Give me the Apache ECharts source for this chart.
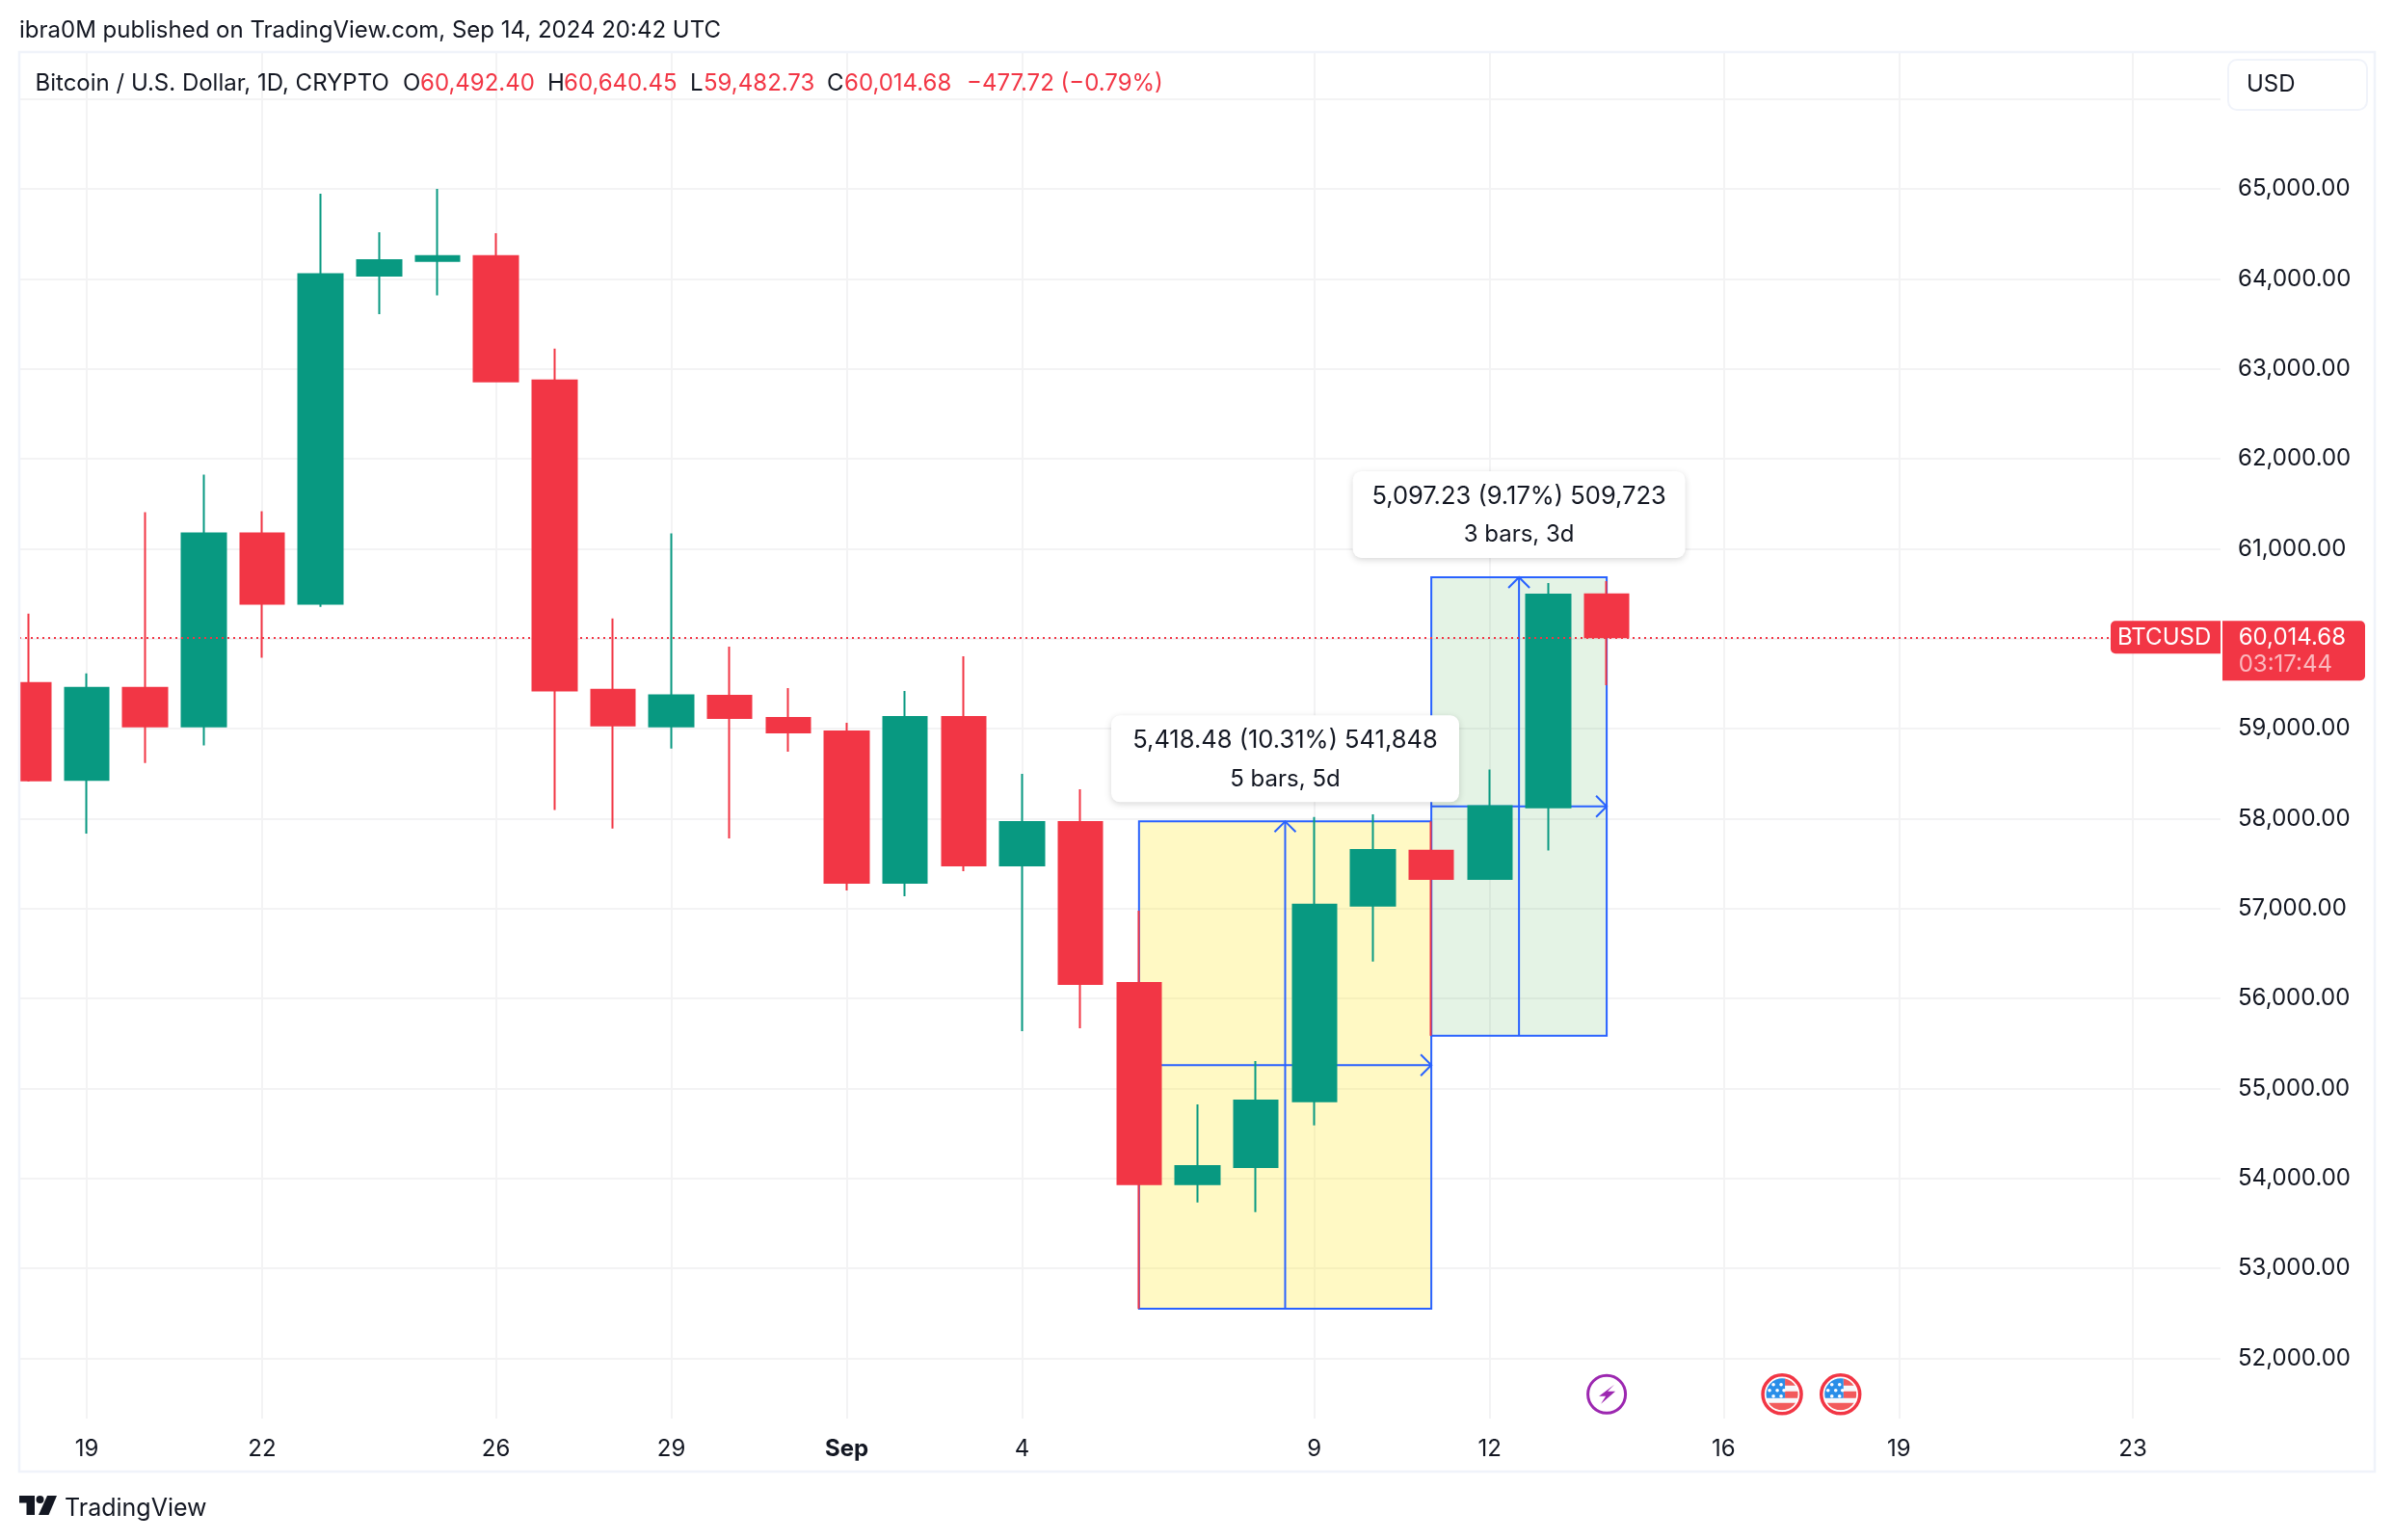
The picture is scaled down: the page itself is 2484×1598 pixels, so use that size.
<!DOCTYPE html>
<html><head><meta charset="utf-8">
<style>html,body{margin:0;padding:0;background:#fff}#c{width:2484px;height:1598px}</style>
<script src="https://cdn.jsdelivr.net/npm/echarts@6/dist/echarts.min.js"></script>
</head><body><div id="c"></div>
<script>
const dates = ['Aug 18','Aug 19','Aug 20','Aug 21','Aug 22','Aug 23','Aug 24','Aug 25','Aug 26','Aug 27','Aug 28','Aug 29','Aug 30','Aug 31','Sep 1','Sep 2','Sep 3','Sep 4','Sep 5','Sep 6','Sep 7','Sep 8','Sep 9','Sep 10','Sep 11','Sep 12','Sep 13','Sep 14'];
const opens  = [59507,58430,59453,59025,61169,60387,64036,64198,64252,62871,59433,59025,59366,59119,58969,57287,59130,57480,57962,56173,53935,54127,54857,57031,57643,57329,58126,60492.40];
const closes = [58425,59453,59025,61169,60387,64051,64208,64252,62861,59423,59034,59369,59119,58958,57287,59130,57480,57962,56162,53935,54138,54865,57042,57650,57329,58137,60490,60014.68];
const lows   = [58410,57834,58617,58813,59787,60353,63608,63815,62851,58095,57889,58779,57780,58744,57201,57137,57416,55637,55670,52550,53733,53625,54590,56411,55586,57320,57644,59482.73];
const highs  = [60279,59615,61405,61823,61415,64946,64518,65000,64508,63225,60225,61169,59912,59451,59066,59419,59805,58498,58326,56977,54823,55305,58018,58048,57969,58544,60619,60640.45];
const xTickIndex = [1,4,8,11,14,17,22,25,29,32,36];
const xTickLabels = ['19','22','26','29','Sep','4','9','12','16','19','23'];
const yTicks = [52000,53000,54000,55000,56000,57000,58000,59000,60000,61000,62000,63000,64000,65000,66000];
const yLabelTicks = [52000,53000,54000,55000,56000,57000,58000,59000,61000,62000,63000,64000,65000];
const rangeStart = [19,24];
const rangeEnd = [24,27];
const rangeLow = [52550.4,55586];
const rangeHigh = [57968.88,60683.23];
const rangeFill = ['rgba(255,235,59,0.3)','rgba(76,175,80,0.15)'];
const rangeLine1 = ['5,418.48 (10.31%) 541,848','5,097.23 (9.17%) 509,723'];
const rangeLine2 = ['5 bars, 5d','3 bars, 3d'];
const lastClose = 60014.68;
const countdown = '03:17:44';
const eventDays = [27,30,31];
const eventKinds = ['bolt','flag','flag'];
const eventLevel = 51600;
const INK='#131722', RED='#F23645', GREEN='#089981', BLUE='#2962FF', GRID='#F3F3F4', FRAME='#F0F3FA', FONT='Inter', FS=24;

const candleData = dates.map((d,i)=>[i,opens[i],closes[i],lows[i],highs[i]]);
const fmt = v => v.toLocaleString('en-US',{minimumFractionDigits:2,maximumFractionDigits:2});

function rangeShape(params, api){
  const i = params.dataIndex;
  const a = api.coord([api.value(0),api.value(3)]);
  const b = api.coord([api.value(1),api.value(2)]);
  const x0=a[0],y0=a[1],x1=b[0],y1=b[1],mx=(x0+x1)/2,my=(y0+y1)/2;
  const st={stroke:BLUE,lineWidth:2,fill:null};
  const h=11;
  return {type:'group',children:[
    {type:'rect',shape:{x:x0,y:y0,width:x1-x0,height:y1-y0},style:{fill:rangeFill[i],stroke:BLUE,lineWidth:2}},
    {type:'line',shape:{x1:mx,y1:y1,x2:mx,y2:y0},style:st},
    {type:'polyline',shape:{points:[[mx-h,y0+h],[mx,y0],[mx+h,y0+h]]},style:st},
    {type:'line',shape:{x1:x0,y1:my,x2:x1,y2:my},style:st},
    {type:'polyline',shape:{points:[[x1-h,my-h],[x1,my],[x1-h,my+h]]},style:st}
  ]};
}
function rangeLabel(params, api){
  const i = params.dataIndex;
  const a = api.coord([api.value(0),api.value(3)]);
  const b = api.coord([api.value(1),api.value(2)]);
  const mx=(a[0]+b[0])/2, w=i===0?361:345, H=90, top=a[1]-20-H;
  const t=(s,y,fs)=>({type:'text',style:{text:s,x:mx,y:y,align:'center',verticalAlign:'middle',fontFamily:FONT,fontSize:fs,fill:INK}});
  return {type:'group',children:[
    {type:'rect',shape:{x:mx-w/2,y:top,width:w,height:H,r:9},style:{fill:'#fff',shadowBlur:7,shadowOffsetY:2,shadowColor:'rgba(0,0,0,0.16)'}},
    t(rangeLine1[i],top+26,25.5),t(rangeLine2[i],top+66,FS)
  ]};
}
function priceTag(params, api){
  const y=api.coord([0,api.value(0)])[1];
  const top=y-17;
  const txt=(s,x,yy,op)=>({type:'text',style:{text:s,x:x,y:yy,align:'left',verticalAlign:'middle',fontFamily:FONT,fontSize:FS,fill:'#fff',opacity:op}});
  return {type:'group',children:[
    {type:'rect',shape:{x:2190,y:top,width:114,height:34,r:[5,0,0,5]},style:{fill:RED}},
    {type:'rect',shape:{x:2306,y:top,width:148,height:62,r:[0,5,5,0]},style:{fill:RED}},
    txt('BTCUSD',2197,top+17,1),
    txt(fmt(api.value(0)),2322.7,top+17,1),
    txt(countdown,2322.7,top+45,0.65)
  ]};
}
function eventIcon(params, api){
  const p=api.coord([api.value(0),api.value(1)]);
  const kind=eventKinds[params.dataIndex];
  const x=p[0],y=p[1];
  if(kind==='bolt'){
    return {type:'group',x:x,y:y,children:[
      {type:'circle',shape:{cx:0,cy:0,r:19.5},style:{fill:'#fff',stroke:'#9C27B0',lineWidth:3}},
      {type:'polygon',shape:{points:[[8,-10],[-8,2],[-1,2],[-6,10],[9,-3],[1,-3]]},style:{fill:'#9C27B0'}}
    ]};
  }
  const red='#F25A5C',blue='#2A8EE8';
  const stars=[];
  [[-9,-11],[-1,-11],[-13,-5],[-5,-5],[2,-5],[-9,1],[-1,1]].forEach(s=>{
    stars.push({type:'circle',shape:{cx:s[0],cy:s[1]+1,r:1.8},style:{fill:'#fff'}});
  });
  return {type:'group',x:x,y:y,children:[
    {type:'circle',shape:{cx:0,cy:0,r:20},style:{fill:'#fff',stroke:RED,lineWidth:3.5}},
    {type:'group',clipPath:{type:'circle',shape:{cx:0,cy:0,r:16.5}},children:[
      {type:'rect',shape:{x:-17,y:-17,width:34,height:34},style:{fill:'#F7F8FB'}},
      {type:'rect',shape:{x:3,y:-17,width:14,height:8},style:{fill:red}},
      {type:'rect',shape:{x:3,y:-3,width:14,height:7},style:{fill:red}},
      {type:'rect',shape:{x:-17,y:9,width:34,height:8},style:{fill:red}},
      {type:'rect',shape:{x:-17,y:-17,width:20,height:21},style:{fill:blue}}
    ].concat(stars)}
  ]};
}
function label(text,x,y,fill,size){
  return {type:'text',silent:true,z:102,x:x,y:y,style:{text:text,fontFamily:FONT,fontSize:size||FS,fill:fill||INK,align:'left',verticalAlign:'middle'}};
}
const chart = echarts.init(document.getElementById('c'),null,{renderer:'canvas',width:2484,height:1598});
chart.setOption({
  animation:false,
  backgroundColor:'#fff',
  grid:{left:20,right:180,top:54,bottom:126,containLabel:false},
  xAxis:{type:'value',min:-0.154,max:37.5,
    axisLine:{show:false},
    axisTick:{show:false,customValues:xTickIndex},
    splitLine:{show:true,lineStyle:{color:GRID,width:2}},
    axisLabel:{customValues:xTickIndex,margin:20,fontFamily:FONT,fontSize:FS,color:INK,
      formatter:v=>{const s=xTickLabels[xTickIndex.indexOf(v)];return s==='Sep'?'{b|Sep}':s;},
      rich:{b:{fontFamily:FONT,fontSize:FS,fontWeight:'bold',color:INK}}}},
  yAxis:{type:'value',position:'right',min:51330,max:66521,scale:true,
    axisLine:{show:false},
    axisTick:{show:false,customValues:yTicks},
    splitLine:{show:true,lineStyle:{color:GRID,width:2}},
    axisLabel:{customValues:yLabelTicks,margin:18,fontFamily:FONT,fontSize:FS,color:INK,align:'left',padding:[0,0,3,0],formatter:v=>fmt(v)}},
  series:[
    {type:'custom',name:'ranges',z:1,silent:true,renderItem:rangeShape,clip:false,
     encode:{x:[0,1],y:[2,3]},
     data:rangeStart.map((s,i)=>[s,rangeEnd[i],rangeLow[i],rangeHigh[i]])},
    {type:'candlestick',name:'BTCUSD',z:2,silent:true,barWidth:46,data:candleData,
     encode:{x:0,y:[1,2,3,4]},
     itemStyle:{color:GREEN,color0:RED,borderColor:GREEN,borderColor0:RED,borderWidth:2},
     markLine:{silent:true,symbol:'none',z:3,label:{show:false},animation:false,
       lineStyle:{color:RED,width:2,type:[2,4],opacity:1},data:[{yAxis:lastClose}]}},
    {type:'custom',name:'rangeLabels',z:5,silent:true,renderItem:rangeLabel,clip:false,
     encode:{x:[0,1],y:[2,3]},
     data:rangeStart.map((s,i)=>[s,rangeEnd[i],rangeLow[i],rangeHigh[i]])},
    {type:'custom',name:'events',z:5,silent:true,renderItem:eventIcon,clip:false,
     encode:{x:0,y:1},data:eventDays.map(d=>[d,eventLevel])},
    {type:'custom',name:'priceTag',z:6,silent:true,renderItem:priceTag,clip:false,
     encode:{y:0},data:[[lastClose]]}
  ],
  graphic:{elements:[
    {type:'rect',silent:true,z:100,shape:{x:0,y:54,width:20,height:1473},style:{fill:'#fff'}},
    {type:'rect',silent:true,z:101,shape:{x:20,y:54,width:2444,height:1473},style:{fill:'none',stroke:FRAME,lineWidth:2.5}},
    {type:'rect',silent:true,z:101,shape:{x:2312,y:62,width:144,height:52,r:9},style:{fill:'#fff',stroke:FRAME,lineWidth:2}},
    label('USD',2331,88),
    label('ibra0M published on TradingView.com, Sep 14, 2024 20:42 UTC',20,32),
    label('Bitcoin / U.S. Dollar, 1D, CRYPTO',36.5,87),
    label('O',418,87),label('60,492.40',436,87,RED),
    label('H',568,87),label('60,640.45',585,87,RED),
    label('L',716,87),label('59,482.73',730,87,RED),
    label('C',858,87),label('60,014.68',876,87,RED),
    label('\u2212477.72 (\u22120.79%)',1003,87,RED),
    {type:'polygon',silent:true,z:101,shape:{points:[[20,1552],[36,1552],[36,1572],[27.5,1572],[27.5,1559.5],[20,1559.5]]},style:{fill:INK}},
    {type:'circle',silent:true,z:101,shape:{cx:41.5,cy:1556,r:4},style:{fill:INK}},
    {type:'polygon',silent:true,z:101,shape:{points:[[49,1552],[59,1552],[50.5,1572],[40,1572]]},style:{fill:INK}},
    label('TradingView',67,1565,INK,25)
  ]}
});
</script></body></html>
